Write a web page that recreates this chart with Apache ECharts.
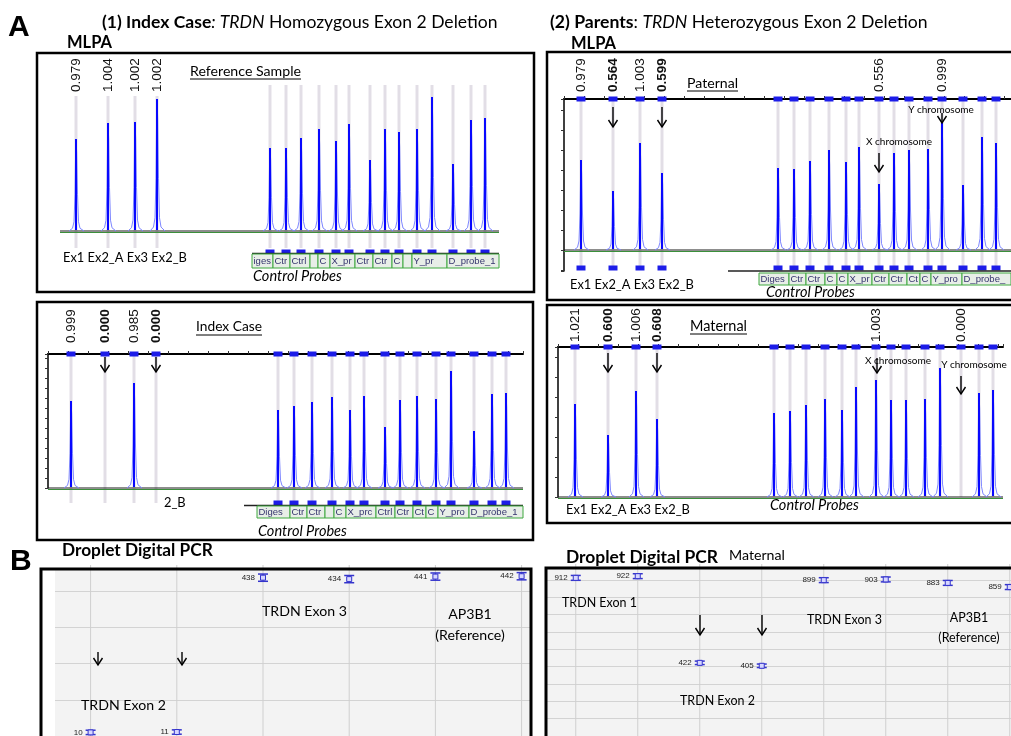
<!DOCTYPE html>
<html><head><meta charset="utf-8">
<script src="https://cdn.jsdelivr.net/npm/echarts@6/dist/echarts.min.js"></script>
<style>html,body{margin:0;padding:0;background:#fff}#c{width:1011px;height:736px}</style>
</head><body><div id="c"></div>
<script>
// ================= DATA =================
// MLPA probe positions (migration position along the trace) and peak heights (RFU, arbitrary)
// probe order: Ex1, Ex2_A, Ex3, Ex2_B, then 14 control probes
const refPos    = [16,48,75,97, 210,226,241,259,276,289,310,325,339,357,372,393,411,425];
const refHeight = [92,108,109,132, 83,83,93,102,90,107,71,102,99,102,134,67,111,113];
const refRatio  = ['0.979','1.004','1.002','1.002'];

const patPos    = [17,49,76,98, 214,230,246,265,282,295,315,330,345,364,378,399,418,432];
const patHeight = [90,59,107,77, 82,81,89,100,88,103,66,97,100,101,128,65,113,107];
const patRatio  = ['0.979','0.564','1.003','0.599',null,null,null,null,null,null,'0.556',null,null,null,'0.999',null,null,null];

const idxPos    = [23,57,86,108, 230,246,264,284,302,316,337,352,369,388,403,426,444,458];
const idxHeight = [87,0,105,0, 78,82,86,91,78,92,61,88,92,89,117,57,94,95];
const idxRatio  = ['0.999','0.000','0.985','0.000'];

const matPos    = [17,50,78,99, 216,232,248,267,284,298,318,333,348,367,382,403,421,435];
const matHeight = [93,62,106,78, 84,86,92,98,87,110,117,97,97,98,129,0,104,107];
const matRatio  = ['1.021','0.600','1.006','0.608',null,null,null,null,null,null,'1.003',null,null,null,null,'0.000',null,null];

const deletedProbes = [1,3]; // Ex2_A, Ex2_B

// control-probe size-bin table (labels and bin edges along the trace)
const refCellLabels = ['iges','Ctr','Ctrl','C','C','X_pr','Ctr','Ctr','Ct','C','Y_pr','D_probe_1'];
const refCellEdges  = [192,213,230,250,258,270,295,313,332,343,352,387,439];
const patCellLabels = ['DigesC','Ctrl','Ctrl_','Ct','Ct','X_prc','Ctrl','Ctrl_','Ctr','Ct','Y_prob','D_probe_1('];
const patCellEdges  = [195,225,242,261,273,284,308,325,343,356,367,398,447];
const idxCellLabels = ['DigesC','Ctrl','Ctrl_','Ct','Ct','X_prc','Ctrl','Ctrl_','Ctr','Ct','Y_prob','D_probe_16'];
const idxCellEdges  = [209,242,259,277,286,298,328,347,365,378,390,421,475];

// Droplet digital PCR (copies/uL) per well
const ddIndexWells = ['TRDN Exon 2','TRDN Exon 2','TRDN Exon 3','TRDN Exon 3','AP3B1','AP3B1'];
const ddIndexConc  = [10, 11, 438, 434, 441, 442];
const ddIndexLow   = [4, 5, 428, 424, 431, 432];
const ddIndexHigh  = [16, 17, 448, 444, 451, 452];

const ddMatWells = ['TRDN Exon 1','TRDN Exon 1','TRDN Exon 2','TRDN Exon 2','TRDN Exon 3','TRDN Exon 3','AP3B1','AP3B1'];
const ddMatConc  = [912, 922, 422, 405, 899, 903, 883, 859];
const ddMatLow   = [898, 908, 412, 395, 885, 889, 869, 845];
const ddMatHigh  = [926, 936, 432, 415, 913, 917, 897, 873];

// ================= RENDER =================
const FONT = 'Lato, "Open Sans", sans-serif';
const ARIAL = '"Liberation Sans", Arial, sans-serif';
const mctx = document.createElement('canvas').getContext('2d');
function tw(text, font){ mctx.font = font; return mctx.measureText(text).width; }
function fitFont(text, pre, target, fam){ fam = fam || FONT; const w = tw(text, pre + '20px ' + fam); return pre + (20*target/w).toFixed(2) + 'px ' + fam; }

const chart = echarts.init(document.getElementById('c'), null, {renderer:'canvas', width:1011, height:736});

const mlpaPanels = [
 {pos:refPos, h:refHeight, ratio:refRatio, bold:[], cells:refCellLabels, edges:refCellEdges,
  grid:{left:60,top:85,width:439,height:171}, yMin:-25, yMax:146, axes:false, topMarks:false,
  labelGap:7, guideBottom:-17, botMarkY:-21, botFrom:4, lineY:-22.5, lineFrom:192, tableTop:-23, tableBottom:-37},
 {pos:patPos, h:patHeight, ratio:patRatio, bold:deletedProbes, cells:patCellLabels, edges:patCellEdges,
  grid:{left:564,top:99,width:447,height:172}, yMin:-21, yMax:151, axes:true, topMarks:true,
  labelGap:-7, guideBottom:-18, botMarkY:-18, botFrom:0, lineY:-21, lineFrom:164, tableTop:-23, tableBottom:-35},
 {pos:idxPos, h:idxHeight, ratio:idxRatio, bold:deletedProbes, cells:idxCellLabels, edges:idxCellEdges,
  grid:{left:48,top:354,width:475,height:134}, yMin:0, yMax:134, axes:true, topMarks:true,
  labelGap:-11, guideBottom:-15, botMarkY:-15, botFrom:4, lineY:-17.5, lineFrom:196, tableTop:-18, tableBottom:-30},
 {pos:matPos, h:matHeight, ratio:matRatio, bold:deletedProbes, cells:null, edges:null,
  grid:{left:558,top:347,width:445,height:150}, yMin:0, yMax:150, axes:true, topMarks:true,
  labelGap:-5, guideBottom:0, botMarkY:null, botFrom:0, lineY:null}
];

const grids = [], xAxes = [], yAxes = [], series = [];

mlpaPanels.forEach((p, gi) => {
  const W = p.grid.width;
  grids.push(Object.assign({show:false}, p.grid));
  xAxes.push({gridIndex:gi, type:'value', min:0, max:W, position:'top', show:p.axes, splitNumber:25,
    axisLine:{show:true, onZero:false, lineStyle:{color:'#000', width:2}},
    axisTick:{show:true, length:3, lineStyle:{color:'#333'}}, axisLabel:{show:false}, splitLine:{show:false}});
  yAxes.push({gridIndex:gi, type:'value', min:p.yMin, max:p.yMax, show:p.axes, splitNumber:9,
    axisLine:{show:true, onZero:false, lineStyle:{color:'#000', width:1.5}},
    axisTick:{show:true, length:3, lineStyle:{color:'#333'}}, axisLabel:{show:false}, splitLine:{show:false}});
  const base = {type:'custom', coordinateSystem:'cartesian2d', xAxisIndex:gi, yAxisIndex:gi, silent:true, clip:false};
  // guide lines
  series.push(Object.assign({}, base, {z:1, data:p.pos.map((x,i)=>[x,i]), renderItem:(pa,api)=>{
    const x = api.value(0), i = api.value(1);
    const t = api.coord([x, p.yMax]), b = api.coord([x, p.guideBottom]);
    let y0 = t[1]; if (p.labelGap > 0 && p.ratio[i]) y0 = t[1] + p.labelGap + 4;
    return {type:'rect', shape:{x:t[0]-1.5, y:y0, width:3, height:b[1]-y0}, style:{fill:'#e2dee6'}};
  }}));
  // baseline trace
  series.push(Object.assign({}, base, {z:2, data:[[0, W]], renderItem:(pa,api)=>{
    const a = api.coord([api.value(0), 0]), b = api.coord([api.value(1), 0]);
    return {type:'group', children:[
      {type:'line', shape:{x1:a[0], y1:a[1]+1.5, x2:b[0], y2:b[1]+1.5}, style:{stroke:'#3b8f3b', lineWidth:1}},
      {type:'line', shape:{x1:a[0], y1:a[1], x2:b[0], y2:b[1]}, style:{stroke:'#1a1a1a', lineWidth:1}}
    ]};
  }}));
  // peaks
  series.push(Object.assign({}, base, {z:3, data:p.pos.map((x,i)=>[x, p.h[i]]).filter(d=>d[1]>0), renderItem:(pa,api)=>{
    const b = api.coord([api.value(0), 0]), t = api.coord([api.value(0), api.value(1)]);
    const hh = b[1]-t[1], x = b[0], y = b[1];
    const outline = [[x-7,y],[x-3.5,y-hh*0.03],[x-2,y-hh*0.1],[x-1,y-hh*0.4],[x-0.4,y-hh*0.85],[x,t[1]],
                     [x+0.7,y-hh*0.85],[x+1.5,y-hh*0.4],[x+2.5,y-hh*0.1],[x+4,y-hh*0.03],[x+8,y]];
    return {type:'group', children:[
      {type:'polyline', shape:{points:outline}, style:{stroke:'#7d86ff', lineWidth:1, fill:'none'}},
      {type:'line', shape:{x1:x, y1:y-1, x2:x, y2:t[1]}, style:{stroke:'#0808ff', lineWidth:2}}
    ]};
  }}));
  // top markers
  if (p.topMarks) series.push(Object.assign({}, base, {z:4, data:p.pos.map(x=>[x, p.yMax]), renderItem:(pa,api)=>{
    const c = api.coord([api.value(0), api.value(1)]);
    return {type:'rect', shape:{x:c[0]-4.5, y:c[1]-2.5, width:9, height:5}, style:{fill:'#1c1ce8'}};
  }}));
  // bottom markers
  if (p.botMarkY != null) series.push(Object.assign({}, base, {z:4, data:p.pos.slice(p.botFrom).map(x=>[x, p.botMarkY]), renderItem:(pa,api)=>{
    const c = api.coord([api.value(0), api.value(1)]);
    return {type:'rect', shape:{x:c[0]-4.5, y:c[1]-2.5, width:9, height:5}, style:{fill:'#1c1ce8'}};
  }}));
  // lower axis line
  if (p.lineY != null) series.push(Object.assign({}, base, {z:4, data:[[p.lineFrom, W]], renderItem:(pa,api)=>{
    const a = api.coord([api.value(0), p.lineY]), b = api.coord([api.value(1), p.lineY]);
    return {type:'line', shape:{x1:a[0], y1:a[1], x2:b[0], y2:b[1]}, style:{stroke:'#222', lineWidth:1.5}};
  }}));
  // probe bin table
  if (p.cells) series.push(Object.assign({}, base, {z:5, data:p.cells.map((l,i)=>[p.edges[i], p.edges[i+1], i]), renderItem:(pa,api)=>{
    const a = api.coord([api.value(0), p.tableTop]), b = api.coord([api.value(1), p.tableBottom]);
    const w = b[0]-a[0];
    return {type:'group', children:[
      {type:'rect', shape:{x:a[0], y:a[1], width:w, height:b[1]-a[1]}, style:{fill:'#e8eee8', stroke:'#3fa83f', lineWidth:1}},
      {type:'text', x:a[0]+1.5, y:(a[1]+b[1])/2, style:{text:p.cells[api.value(2)], font:'9.5px '+ARIAL, fill:'#35356e',
        textAlign:'left', textVerticalAlign:'middle', align:'left', verticalAlign:'middle', width:Math.max(w-2,1), overflow:'truncate', ellipsis:''}}
    ]};
  }}));
  // ratio labels
  series.push(Object.assign({}, base, {z:6, data:p.pos.map((x,i)=>[x,i]).filter(d=>p.ratio[d[1]]), renderItem:(pa,api)=>{
    const i = api.value(1), c = api.coord([api.value(0), p.yMax]);
    const bold = p.bold.indexOf(i) >= 0;
    return {type:'text', x:c[0], y:c[1]+p.labelGap, rotation:Math.PI/2, style:{text:p.ratio[i],
      font:(bold?'bold ':'')+'13.5px '+ARIAL, fill:'#111', textAlign:'left', textVerticalAlign:'middle', align:'left', verticalAlign:'middle'}};
  }}));
});

// ddPCR panels
const ddPanels = [
 {conc:ddIndexConc, lo:ddIndexLow, hi:ddIndexHigh, wells:ddIndexWells, grid:{left:55, top:569, width:476, height:171}, xMin:0.587, xMax:6.109, yMax:462},
 {conc:ddMatConc, lo:ddMatLow, hi:ddMatHigh, wells:ddMatWells, grid:{left:546, top:568, width:465, height:173}, xMin:0.52, xMax:8.02, yMax:969}
];
ddPanels.forEach((p, k) => {
  const gi = 4 + k;
  grids.push(Object.assign({show:true, backgroundColor:'#f3f3f3', borderWidth:0}, p.grid));
  xAxes.push({gridIndex:gi, type:'value', min:p.xMin, max:p.xMax, show:false});
  yAxes.push({gridIndex:gi, type:'value', min:0, max:p.yMax, interval:100,
    axisLine:{show:false}, axisTick:{show:false}, axisLabel:{show:false}, splitLine:{show:true, lineStyle:{color:'#d3d3d3', width:1}}});
  const base = {type:'custom', coordinateSystem:'cartesian2d', xAxisIndex:gi, yAxisIndex:gi, silent:true, clip:false};
  series.push(Object.assign({}, base, {z:1, data:p.wells.map((w,i)=>[i+1, 0]), renderItem:(pa,api)=>{
    const a = api.coord([api.value(0), 0]), b = api.coord([api.value(0), p.yMax]);
    return {type:'line', shape:{x1:a[0], y1:a[1], x2:b[0], y2:b[1]-4}, style:{stroke:'#cfcfcf', lineWidth:1}};
  }}));
  series.push(Object.assign({}, base, {z:3, data:p.conc.map((v,i)=>[i+1, v, p.lo[i], p.hi[i]]), renderItem:(pa,api)=>{
    const c = api.coord([api.value(0), api.value(1)]);
    const lo = api.coord([api.value(0), api.value(2)]), hi = api.coord([api.value(0), api.value(3)]);
    const col = '#3434cc';
    return {type:'group', children:[
      {type:'line', shape:{x1:c[0], y1:lo[1], x2:c[0], y2:hi[1]}, style:{stroke:col, lineWidth:1}},
      {type:'line', shape:{x1:c[0]-5, y1:hi[1], x2:c[0]+5, y2:hi[1]}, style:{stroke:col, lineWidth:1.5}},
      {type:'line', shape:{x1:c[0]-5, y1:lo[1], x2:c[0]+5, y2:lo[1]}, style:{stroke:col, lineWidth:1.5}},
      {type:'rect', shape:{x:c[0]-2.5, y:c[1]-2.5, width:5, height:5}, style:{fill:'#d6d6ff', stroke:col, lineWidth:1}},
      {type:'text', x:c[0]-8, y:c[1], style:{text:String(api.value(1)), font:'8px '+ARIAL, fill:'#222',
        textAlign:'right', textVerticalAlign:'middle', align:'right', verticalAlign:'middle'}}
    ]};
  }}));
});

// ---------- annotations ----------
const G = [];
function txt(x, y, text, font, opts){ G.push({type:'text', x:x, y:y, z:50, silent:true,
  style:Object.assign({text:text, font:font, fill:'#000', textAlign:'left', textVerticalAlign:'middle'}, opts || {})}); }
function arrow(x, y1, y2){
  G.push({type:'line', z:50, silent:true, shape:{x1:x, y1:y1, x2:x, y2:y2}, style:{stroke:'#000', lineWidth:1.4}});
  G.push({type:'polyline', z:50, silent:true, shape:{points:[[x-4.5,y2-7],[x,y2],[x+4.5,y2-7]]}, style:{stroke:'#000', fill:'none', lineWidth:1.4}});
}
function box(x, y, w, h, lw){ G.push({type:'rect', z:60, silent:true, shape:{x:x, y:y, width:w, height:h}, style:{stroke:'#000', fill:'none', lineWidth:lw}}); }
function underlined(x, y, text, target){
  txt(x, y, text, fitFont(text, '', target));
  G.push({type:'line', z:50, silent:true, shape:{x1:x, y1:y+8, x2:x+target, y2:y+8}, style:{stroke:'#000', lineWidth:1}});
}
function richTitle(x, y, parts, target){
  const baseSize = 20; let w = 0;
  parts.forEach(pt => { const pre = pt[0]==='b' ? 'bold ' : pt[0]==='i' ? 'italic ' : ''; w += tw(pt[1], pre + baseSize + 'px ' + FONT); });
  const size = baseSize * target / w;
  const rich = {}; let str = '';
  parts.forEach((pt, k) => { const key = 'p' + k;
    rich[key] = {fontSize:size, fontFamily:FONT, fontWeight:pt[0]==='b'?'bold':'normal', fontStyle:pt[0]==='i'?'italic':'normal', fill:'#000'};
    str += '{' + key + '|' + pt[1] + '}'; });
  G.push({type:'text', x:x, y:y, z:50, silent:true, style:{text:str, rich:rich, textAlign:'left', textVerticalAlign:'middle'}});
}

// panel letters and headings
txt(8, 28, 'A', 'bold 30px ' + ARIAL);
txt(10, 562, 'B', 'bold 30px ' + ARIAL);
richTitle(102, 22, [['b','(1) Index Case'],['i',': TRDN'],['r',' Homozygous Exon 2 Deletion']], 396);
richTitle(550, 22, [['b','(2) Parents'],['r',': '],['i','TRDN'],['r',' Heterozygous Exon 2 Deletion']], 378);
txt(67, 43, 'MLPA', fitFont('MLPA', 'bold ', 45));
txt(571, 44, 'MLPA', fitFont('MLPA', 'bold ', 45));

// boxes
box(37, 53, 497, 239, 2.5);
box(547, 52, 470, 248, 2.5);
box(37, 302, 496, 238, 2.5);
box(547, 305, 470, 218, 2.5);
box(41, 569, 490, 200, 3);
box(546, 568, 470, 200, 3);

// MLPA annotations
underlined(190, 71, 'Reference Sample', 111);
underlined(687, 83, 'Paternal', 51);
underlined(196, 327, 'Index Case', 66);
underlined(690, 326, 'Maternal', 57);
const EX = 'Ex1 Ex2_A Ex3 Ex2_B';
const exFont = fitFont(EX, '', 124);
txt(63, 258, EX, exFont);
txt(570, 285, EX, exFont);
txt(566, 510, EX, exFont);
txt(164, 503, '2_B', exFont);
const cpFont = fitFont('Control Probes', 'italic ', 89);
txt(253, 276, 'Control Probes', cpFont);
txt(766, 292, 'Control Probes', cpFont);
txt(258, 531, 'Control Probes', cpFont);
txt(770, 505, 'Control Probes', cpFont);
const chrFont = fitFont('X chromosome', '', 66);
txt(899, 142, 'X chromosome', chrFont, {textAlign:'center'});
txt(941, 110, 'Y chromosome', chrFont, {textAlign:'center'});
txt(898, 361, 'X chromosome', chrFont, {textAlign:'center'});
txt(974, 365, 'Y chromosome', chrFont, {textAlign:'center'});
arrow(613, 107, 127); arrow(662, 107, 127);
arrow(879, 153, 172); arrow(942, 113, 123);
arrow(105, 357, 372); arrow(156, 357, 372);
arrow(608, 353, 372); arrow(657, 353, 372);
arrow(877, 358, 373); arrow(961, 376, 394);

// ddPCR annotations
txt(62, 550, 'Droplet Digital PCR', fitFont('Droplet Digital PCR', 'bold ', 151));
txt(566, 557, 'Droplet Digital PCR', fitFont('Droplet Digital PCR', 'bold ', 152));
txt(729, 555, 'Maternal', fitFont('Maternal', '', 56));
const lblL = fitFont('TRDN Exon 3', '', 85);
txt(262, 611, 'TRDN Exon 3', lblL);
txt(470, 614, 'AP3B1', lblL, {textAlign:'center'});
txt(470, 635, '(Reference)', lblL, {textAlign:'center'});
txt(81, 705, 'TRDN Exon 2', lblL);
arrow(98, 652, 665); arrow(182, 652, 665);
const lblR = fitFont('TRDN Exon 3', '', 75);
txt(562, 603, 'TRDN Exon 1', lblR);
txt(807, 620, 'TRDN Exon 3', lblR);
txt(969, 618, 'AP3B1', lblR, {textAlign:'center'});
txt(969, 638, '(Reference)', lblR, {textAlign:'center'});
txt(680, 701, 'TRDN Exon 2', lblR);
arrow(700, 615, 635); arrow(762, 615, 635);

chart.setOption({
  animation:false,
  backgroundColor:'#ffffff',
  grid:grids, xAxis:xAxes, yAxis:yAxes, series:series,
  graphic:{elements:G}
});
</script>
</body></html>
